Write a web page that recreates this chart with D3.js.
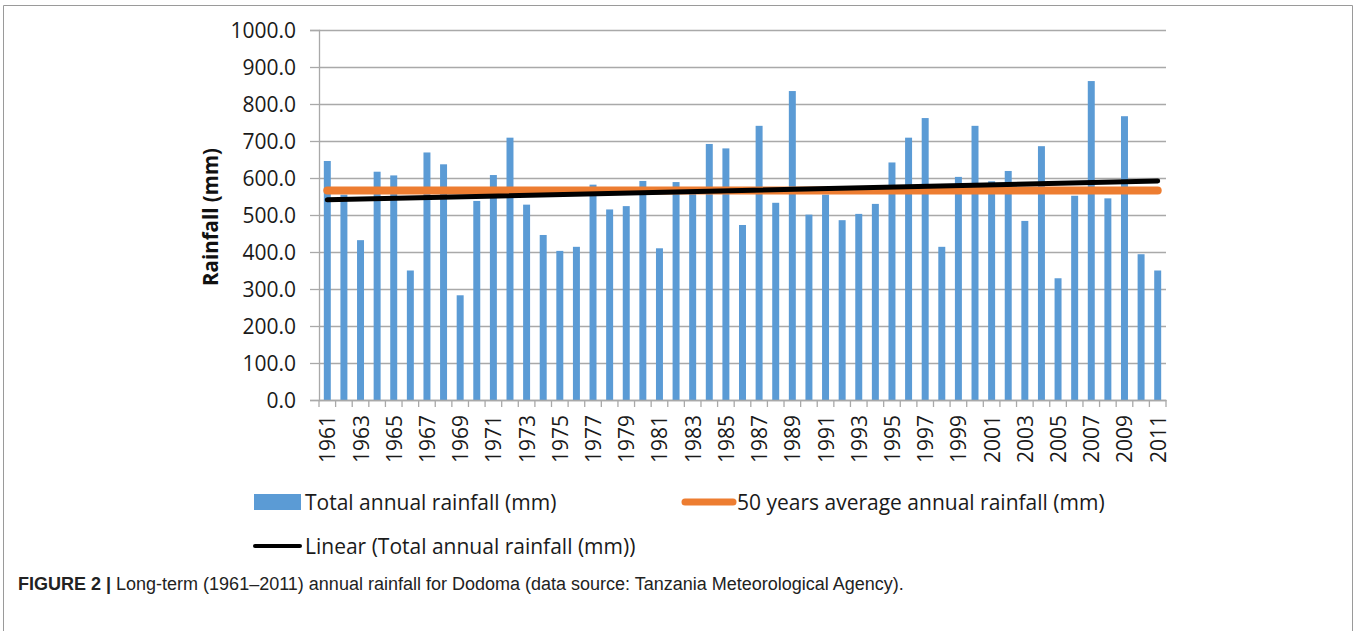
<!DOCTYPE html>
<html>
<head>
<meta charset="utf-8">
<script src="https://cdn.jsdelivr.net/npm/d3@7"></script>
<style>
  body { margin: 0; background: #fff; }
  svg { display: block; }
  .tick text { fill: #1a1a1a; }
</style>
</head>
<body>
<div id="chart"></div>
<script>
// data
var years = d3.range(1961, 2012).map(String);
var rainfall = [
  646, 555, 432, 617, 607, 350, 669, 637, 283, 538,
  608, 709, 528, 446, 403, 414, 582, 515, 524, 592,
  410, 589, 558, 692, 680, 473, 741, 533, 835, 501,
  555, 486, 503, 530, 642, 709, 762, 414, 603, 741,
  591, 619, 484, 686, 329, 552, 862, 545, 767, 394,
  350
];
var averageRainfall = 566;          // 50 years average
var trendEnds = [541, 592];         // linear trend at 1961 and 2011
var yTicks = d3.range(0, 1001, 100);
var legendLabels = [
  "Total annual rainfall (mm)",
  "50 years average annual rainfall (mm)",
  "Linear (Total annual rainfall (mm))"
];

var svgWidth = 1357;
var svgHeight = 631;
var font = "'Open Sans', Lato, sans-serif";

var margin = { top: 30, left: 319, right: 191, bottom: 231 };
var width = svgWidth - margin.left - margin.right;
var height = svgHeight - margin.top - margin.bottom;

var svg = d3.select("#chart")
  .append("svg")
  .attr("width", svgWidth)
  .attr("height", svgHeight);

// figure frame
svg.append("path")
  .attr("d", "M3.5,640 V5.5 H1352.5 V640")
  .attr("fill", "none")
  .attr("stroke", "#9a9a9a")
  .attr("stroke-width", 1);

var chartGroup = svg.append("g")
  .attr("transform", `translate(${margin.left}, ${margin.top})`);

var xScale = d3.scaleBand()
  .domain(years)
  .range([0, width])
  .padding(0);

var yScale = d3.scaleLinear()
  .domain([0, 1000])
  .range([height, 0]);

// gridlines
chartGroup.append("g")
  .attr("class", "grid")
  .call(d3.axisLeft(yScale).tickValues(yTicks).tickSize(-width).tickFormat(""))
  .call(g => g.select(".domain").remove())
  .call(g => g.selectAll("line").attr("stroke", "#a9a9a9").attr("stroke-width", 1.3));

// y axis with labels
chartGroup.append("g")
  .call(d3.axisLeft(yScale).tickValues(yTicks).tickSize(9).tickPadding(14)
    .tickFormat(d3.format(".1f")))
  .call(g => g.select(".domain").attr("stroke", "#a9a9a9").attr("stroke-width", 1.3))
  .call(g => g.selectAll("line").attr("stroke", "#a9a9a9").attr("stroke-width", 1.3))
  .call(g => g.selectAll("text")
    .attr("font-family", font)
    .attr("font-size", 21)
    .attr("dy", "0.35em"));

// bars
var barW = xScale.bandwidth() * 0.42;
chartGroup.selectAll(".bar")
  .data(rainfall)
  .enter()
  .append("rect")
  .attr("class", "bar")
  .attr("x", (d, i) => xScale(years[i]) + (xScale.bandwidth() - barW) / 2)
  .attr("y", d => yScale(d))
  .attr("width", barW)
  .attr("height", d => height - yScale(d))
  .attr("fill", "#5b9bd5");

// x axis: labels every other year, ticks at category boundaries
var xAxis = chartGroup.append("g")
  .attr("transform", `translate(0, ${height})`)
  .call(d3.axisBottom(xScale).tickSize(0).tickPadding(0)
    .tickFormat((d, i) => i % 2 === 0 ? d : ""))
  .call(g => g.select(".domain").attr("stroke", "#a9a9a9").attr("stroke-width", 1.3));

xAxis.selectAll("text")
  .attr("font-family", font)
  .attr("font-size", 21)
  .attr("text-anchor", "end")
  .attr("transform", "translate(8, 15) rotate(-90)")
  .attr("dy", 0)
  .attr("y", 0);

var boundaries = years.map(d => xScale(d)).concat([width]);
xAxis.selectAll(".btick")
  .data(boundaries)
  .enter()
  .append("line")
  .attr("class", "btick")
  .attr("x1", d => d)
  .attr("x2", d => d)
  .attr("y1", 0)
  .attr("y2", 7)
  .attr("stroke", "#a9a9a9")
  .attr("stroke-width", 1.3);

// average line
var xFirst = xScale(years[0]) + xScale.bandwidth() / 2;
var xLast = xScale(years[years.length - 1]) + xScale.bandwidth() / 2;

chartGroup.append("line")
  .attr("x1", xFirst)
  .attr("x2", xLast)
  .attr("y1", yScale(averageRainfall))
  .attr("y2", yScale(averageRainfall))
  .attr("stroke", "#ed7d31")
  .attr("stroke-width", 8)
  .attr("stroke-linecap", "round");

// linear trend
chartGroup.append("line")
  .attr("x1", xFirst)
  .attr("x2", xLast)
  .attr("y1", yScale(trendEnds[0]))
  .attr("y2", yScale(trendEnds[1]))
  .attr("stroke", "#000")
  .attr("stroke-width", 5)
  .attr("stroke-linecap", "round");

// y axis title
svg.append("text")
  .attr("transform", "translate(218, 217) rotate(-90)")
  .attr("text-anchor", "middle")
  .attr("font-family", font)
  .attr("font-weight", "bold")
  .attr("font-size", 20.5)
  .attr("fill", "#111")
  .text("Rainfall (mm)");

// legend
var legend = svg.append("g")
  .attr("font-family", font)
  .attr("font-size", 21)
  .attr("fill", "#1a1a1a");

legend.append("rect")
  .attr("x", 254).attr("y", 494).attr("width", 47).attr("height", 16)
  .attr("fill", "#5b9bd5");
legend.append("text")
  .attr("x", 305).attr("y", 510)
  .text(legendLabels[0]);

legend.append("line")
  .attr("x1", 685).attr("x2", 733).attr("y1", 502).attr("y2", 502)
  .attr("stroke", "#ed7d31").attr("stroke-width", 7).attr("stroke-linecap", "round");
legend.append("text")
  .attr("x", 737).attr("y", 510)
  .text(legendLabels[1]);

legend.append("line")
  .attr("x1", 255).attr("x2", 300).attr("y1", 546).attr("y2", 546)
  .attr("stroke", "#000").attr("stroke-width", 4).attr("stroke-linecap", "round");
legend.append("text")
  .attr("x", 305).attr("y", 554)
  .text(legendLabels[2]);

// caption
var caption = svg.append("text")
  .attr("x", 18)
  .attr("y", 590)
  .attr("font-family", "'Liberation Sans', Arial, sans-serif")
  .attr("font-size", 18)
  .attr("fill", "#222");
caption.append("tspan")
  .attr("font-weight", "bold")
  .text("FIGURE 2 | ");
caption.append("tspan")
  .text("Long-term (1961\u20132011) annual rainfall for Dodoma (data source: Tanzania Meteorological Agency).");
</script>
</body>
</html>
